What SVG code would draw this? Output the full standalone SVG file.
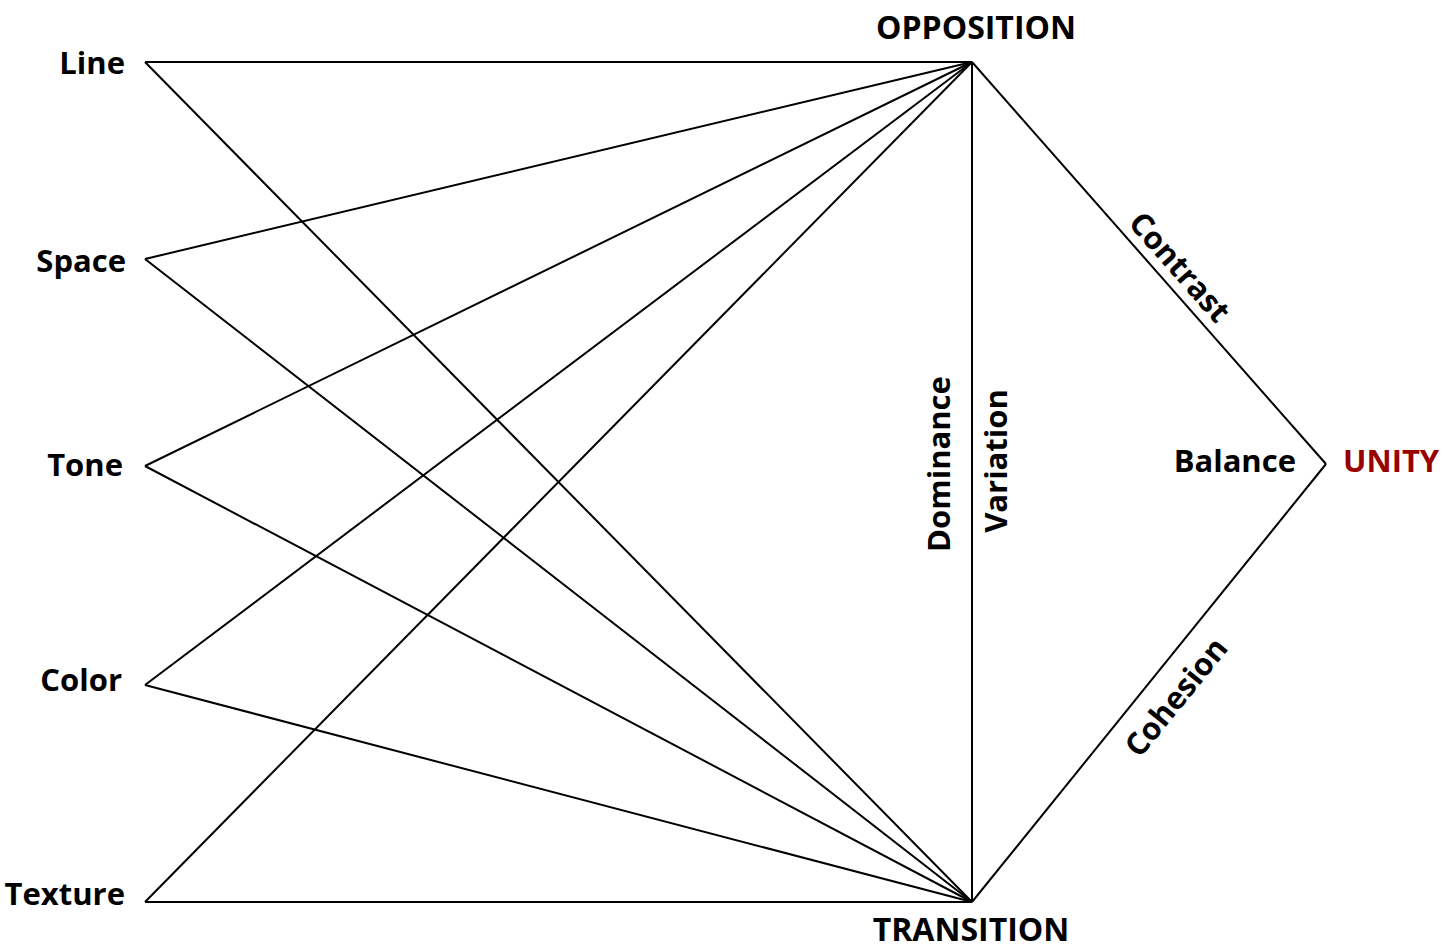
<svg xmlns="http://www.w3.org/2000/svg" width="1455" height="951" viewBox="0 0 1455 951">
<style>
text{font-family:"Open Sans","DejaVu Sans",sans-serif;font-weight:700;font-size:31px;fill:#000}
.r{text-anchor:end}
.m{text-anchor:middle}
.u{fill:#990000}
line{stroke:#000;stroke-width:2;fill:none}
</style>
<rect width="1455" height="951" fill="#fff"/>
<g id="connectors">
<line x1="145" y1="62" x2="972" y2="62"/>
<line x1="145" y1="62" x2="972" y2="902"/>
<line x1="145" y1="259" x2="972" y2="62"/>
<line x1="145" y1="259" x2="972" y2="902"/>
<line x1="145" y1="466" x2="972" y2="62"/>
<line x1="145" y1="466" x2="972" y2="902"/>
<line x1="145" y1="685" x2="972" y2="62"/>
<line x1="145" y1="685" x2="972" y2="902"/>
<line x1="145" y1="902" x2="972" y2="62"/>
<line x1="145" y1="902" x2="972" y2="902"/>
<line x1="972" y1="62" x2="972" y2="902"/>
<line x1="972" y1="62" x2="1326" y2="464"/>
<line x1="1326" y1="464" x2="972" y2="902"/>
</g>
<g id="line"><text class="r" x="125" y="74">Line</text></g>
<g id="space"><text class="r" x="126" y="272">Space</text></g>
<g id="tone"><text class="r" x="123" y="476">Tone</text></g>
<g id="color"><text class="r" x="122" y="691">Color</text></g>
<g id="texture"><text class="r" x="125" y="905">Texture</text></g>
<g id="opposition"><text class="m" x="976" y="39" style="font-size:32px">OPPOSITION</text></g>
<g id="transition"><text class="m" x="971" y="941" style="font-size:32px">TRANSITION</text></g>
<g id="dominance"><text class="m" transform="translate(939,464) rotate(-90)" y="11">Dominance</text></g>
<g id="variation"><text class="m" transform="translate(996,461) rotate(-90)" y="11">Variation</text></g>
<g id="contrast"><text class="m" transform="translate(1180,267) rotate(48.6)" y="11">Contrast</text></g>
<g id="cohesion"><text class="m" transform="translate(1176,697) rotate(-51)" y="11">Cohesion</text></g>
<g id="balance"><text class="r" x="1296" y="472">Balance</text></g>
<g id="unity"><text class="u" x="1343" y="472">UNITY</text></g>
</svg>
